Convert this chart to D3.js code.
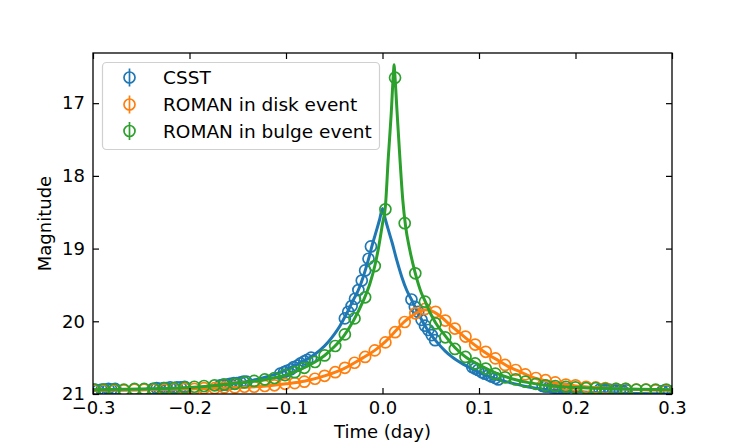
<!DOCTYPE html>
<html>
<head>
<meta charset="utf-8">
<script src="https://cdn.jsdelivr.net/npm/d3@7"></script>
<style>
  body { margin: 0; background: #fff; }
  text { font-family: "DejaVu Sans", sans-serif; }
</style>
</head>
<body>
<script>
// ROMAN sampling times (15 min cadence), shared by the disk and bulge events
var roman_t = [-0.299,-0.289,-0.278,-0.268,-0.257,-0.247,-0.237,-0.226,-0.216,-0.205,
  -0.195,-0.185,-0.174,-0.164,-0.153,-0.143,-0.133,-0.122,-0.112,-0.101,
  -0.091,-0.081,-0.070,-0.060,-0.049,-0.039,-0.029,-0.018,-0.008,0.003,
  0.013,0.023,0.034,0.044,0.055,0.065,0.075,0.086,0.096,0.107,
  0.117,0.127,0.138,0.148,0.159,0.169,0.179,0.190,0.200,0.211,
  0.221,0.231,0.242,0.252,0.263,0.273,0.283,0.294];

var disk_mag = [20.95,20.95,20.95,20.95,20.94,20.94,20.94,20.94,20.93,20.93,
  20.93,20.92,20.92,20.91,20.91,20.90,20.90,20.89,20.88,20.86,
  20.85,20.83,20.79,20.75,20.70,20.64,20.57,20.49,20.40,20.29,
  20.15,20.01,19.89,19.83,19.87,19.99,20.10,20.21,20.32,20.42,
  20.51,20.60,20.67,20.73,20.78,20.81,20.84,20.87,20.88,20.90,
  20.91,20.92,20.93,20.93,20.94,20.94,20.95,20.95];

var bulge_mag = [20.94,20.94,20.94,20.94,20.93,20.93,20.93,20.92,20.92,20.91,
  20.90,20.89,20.88,20.87,20.86,20.84,20.82,20.80,20.78,20.74,
  20.70,20.64,20.56,20.47,20.34,20.18,19.96,19.67,19.24,18.46,
  16.65,18.65,19.34,19.73,20.03,20.22,20.38,20.49,20.58,20.65,
  20.72,20.77,20.80,20.83,20.86,20.88,20.89,20.90,20.91,20.92,
  20.92,20.93,20.93,20.93,20.94,20.94,20.94,20.94];

// CSST visits (grouped by orbit)
var csst_t = [-0.298,-0.295,-0.291,-0.288,-0.284,-0.281,-0.277,
  -0.238,-0.234,-0.231,-0.227,-0.224,-0.220,-0.216,-0.213,-0.209,-0.205,
  -0.168,-0.165,-0.161,-0.158,-0.154,-0.151,-0.147,-0.144,-0.141,
  -0.106,-0.102,-0.099,-0.095,-0.092,-0.088,-0.085,-0.081,-0.078,-0.074,
  -0.039,-0.0355,-0.032,-0.0285,-0.025,-0.0215,-0.018,-0.0145,-0.012,
  0.030,0.0335,0.037,0.0405,0.044,0.0475,0.051,0.0545,
  0.093,0.096,0.099,0.103,0.106,0.110,0.113,0.117,0.120,
  0.166,0.169,0.173,0.176,0.180,0.183,0.187,0.190,0.194,
  0.225,0.228,0.232,0.235,0.239,0.242,0.246,0.249,0.253,
  0.290,0.293,0.297];

var csst_mag = [20.94,20.95,20.94,20.94,20.93,20.94,20.93,
  20.93,20.92,20.93,20.92,20.92,20.91,20.92,20.91,20.91,20.90,
  20.88,20.87,20.87,20.86,20.85,20.85,20.84,20.83,20.83,
  20.72,20.70,20.68,20.66,20.63,20.61,20.58,20.55,20.53,20.50,
  19.96,19.87,19.79,19.69,19.57,19.44,19.30,19.14,18.97,
  19.70,19.80,19.87,19.98,20.06,20.12,20.19,20.26,
  20.63,20.65,20.67,20.70,20.72,20.74,20.76,20.78,20.80,
  20.89,20.90,20.90,20.91,20.92,20.92,20.93,20.93,20.94,
  20.94,20.94,20.95,20.94,20.95,20.95,20.95,20.96,20.95,
  20.96,20.95,20.96];

// model light curves
var csst_model_t = [-0.3,-0.25,-0.2,-0.175,-0.15,-0.134,-0.117,-0.1,-0.085,-0.072,-0.065,-0.056,-0.05,-0.044,-0.037,-0.03,-0.025,-0.02,-0.015,-0.01,-0.006,-0.003,0,
  0.003,0.006,0.01,0.015,0.02,0.025,0.03,0.037,0.044,0.05,0.056,0.065,0.072,0.085,0.1,0.117,0.134,0.15,0.175,0.2,0.25,0.3];
var csst_model_mag = [20.95,20.94,20.92,20.89,20.85,20.81,20.75,20.67,20.57,20.47,20.40,20.28,20.18,20.06,19.89,19.70,19.57,19.39,19.17,18.92,18.74,18.60,18.45,
  18.60,18.74,18.92,19.17,19.39,19.57,19.70,19.89,20.06,20.18,20.28,20.41,20.49,20.60,20.70,20.79,20.85,20.90,20.95,20.97,20.99,21.00];

var disk_model_t = [-0.3,-0.25,-0.2,-0.15,-0.12,-0.1,-0.08,-0.06,-0.04,-0.02,-0.008,0.003,0.013,0.023,0.03,0.037,0.045,0.053,0.06,0.07,0.08,0.09,0.1,0.11,0.12,0.13,0.14,0.15,0.16,0.17,0.18,0.19,0.2,0.22,0.25,0.3];
var disk_model_mag = [20.95,20.94,20.93,20.91,20.89,20.86,20.82,20.75,20.65,20.50,20.40,20.28,20.14,20.00,19.93,19.87,19.84,19.87,19.93,20.05,20.16,20.27,20.37,20.46,20.54,20.62,20.68,20.74,20.79,20.82,20.85,20.87,20.89,20.91,20.93,20.95];

var bulge_model_t = [-0.3,-0.25,-0.2,-0.17,-0.15,-0.13,-0.11,-0.1,-0.09,-0.08,-0.07,-0.06,-0.05,-0.04,-0.03,-0.02,-0.013,-0.008,-0.004,0,0.003,0.006,0.009,0.0115,0.012,0.0125,0.015,0.018,0.021,0.024,0.028,0.034,0.04,0.044,0.05,0.055,0.065,0.075,0.085,0.1,0.117,0.134,0.15,0.175,0.2,0.25,0.3];
var bulge_model_mag = [20.94,20.93,20.91,20.88,20.85,20.82,20.77,20.74,20.69,20.63,20.56,20.47,20.35,20.20,19.99,19.72,19.48,19.24,18.98,18.66,18.42,17.75,17.15,16.55,16.47,16.55,17.10,17.75,18.33,18.70,19.00,19.34,19.60,19.72,19.90,20.02,20.20,20.36,20.48,20.60,20.71,20.79,20.84,20.89,20.91,20.93,20.94];

var x_ticks = [-0.3,-0.2,-0.1,0.0,0.1,0.2,0.3];
var y_ticks = [17,18,19,20,21];
var names = ["CSST","ROMAN in disk event","ROMAN in bulge event"];
var colors = ["#1f77b4","#ff7f0e","#2ca02c"];

var w = 747, h = 443;
var L = 93, R = 672, T = 53, B = 394;

var xScale = d3.scaleLinear().domain([-0.3,0.3]).range([L,R]);
var yScale = d3.scaleLinear().domain([21,16.31]).range([B,T]);

var svg = d3.select("body").append("svg").attr("width",w).attr("height",h);
svg.append("defs").append("clipPath").attr("id","plotclip")
  .append("rect").attr("x",L).attr("y",T).attr("width",R-L).attr("height",B-T);

var plot = svg.append("g").attr("clip-path","url(#plotclip)");

function zipPts(t,m){ return t.map(function(v,i){ return [v,m[i]]; }); }

var line = d3.line()
  .x(function(d){ return xScale(d[0]); })
  .y(function(d){ return yScale(d[1]); })
  .curve(d3.curveMonotoneX);

function drawPoints(t,m,color){
  plot.append("g").selectAll("circle").data(zipPts(t,m)).enter().append("circle")
    .attr("cx",function(d){ return xScale(d[0]); })
    .attr("cy",function(d){ return yScale(d[1]); })
    .attr("r",5.5)
    .attr("fill","none").attr("stroke",color).attr("stroke-width",1.7);
}
function drawModel(t,m,color){
  plot.append("path").attr("d",line(zipPts(t,m)))
    .attr("fill","none").attr("stroke",color).attr("stroke-width",3);
}

drawPoints(csst_t,csst_mag,colors[0]);
drawModel(csst_model_t,csst_model_mag,colors[0]);
drawPoints(roman_t,disk_mag,colors[1]);
drawModel(disk_model_t,disk_model_mag,colors[1]);
drawPoints(roman_t,bulge_mag,colors[2]);
drawModel(bulge_model_t,bulge_model_mag,colors[2]);

// axes, ticks inward on all sides
var fmtX = d3.format(".1f");
var xb = svg.append("g").attr("transform","translate(0,"+B+")")
  .call(d3.axisBottom(xScale).tickValues(x_ticks).tickFormat(fmtX).tickSize(-6).tickPadding(7));
var xt = svg.append("g").attr("transform","translate(0,"+T+")")
  .call(d3.axisTop(xScale).tickValues(x_ticks).tickFormat("").tickSize(-6));
var yl = svg.append("g").attr("transform","translate("+L+",0)")
  .call(d3.axisLeft(yScale).tickValues(y_ticks).tickFormat(d3.format("d")).tickSize(-6).tickPadding(8));
var yr = svg.append("g").attr("transform","translate("+R+",0)")
  .call(d3.axisRight(yScale).tickValues(y_ticks).tickFormat("").tickSize(-6));
[xb,xt,yl,yr].forEach(function(a){
  a.select(".domain").remove();
  a.selectAll("line").attr("stroke","#000").attr("stroke-width",1.2);
  a.selectAll("text").attr("font-size",18).attr("fill","#000").attr("font-family","DejaVu Sans");
});

svg.append("rect").attr("x",L).attr("y",T).attr("width",R-L).attr("height",B-T)
  .attr("fill","none").attr("stroke","#000").attr("stroke-width",1.3);

svg.append("text").attr("x",(L+R)/2).attr("y",438).attr("text-anchor","middle")
  .attr("font-size",18).text("Time (day)");
svg.append("text").attr("transform","translate(51,"+((T+B)/2)+") rotate(-90)")
  .attr("text-anchor","middle").attr("font-size",18).text("Magnitude");

// legend
var leg = svg.append("g");
leg.append("rect").attr("x",102.5).attr("y",62.5).attr("width",277).attr("height",87).attr("rx",4)
  .attr("fill","#fff").attr("fill-opacity",0.8).attr("stroke","#d0d0d0").attr("stroke-width",1.2);
var rowY = [77.5,104.5,131];
names.forEach(function(n,i){
  var g = leg.append("g").attr("transform","translate(0,"+rowY[i]+")");
  g.append("line").attr("x1",129.5).attr("x2",129.5).attr("y1",-9).attr("y2",9)
    .attr("stroke",colors[i]).attr("stroke-width",1.7);
  g.append("circle").attr("cx",129.5).attr("cy",0).attr("r",5.5)
    .attr("fill","none").attr("stroke",colors[i]).attr("stroke-width",1.7);
  g.append("text").attr("x",163).attr("y",0).attr("dy","0.36em")
    .attr("font-size",18.5).text(n);
});
</script>
</body>
</html>
